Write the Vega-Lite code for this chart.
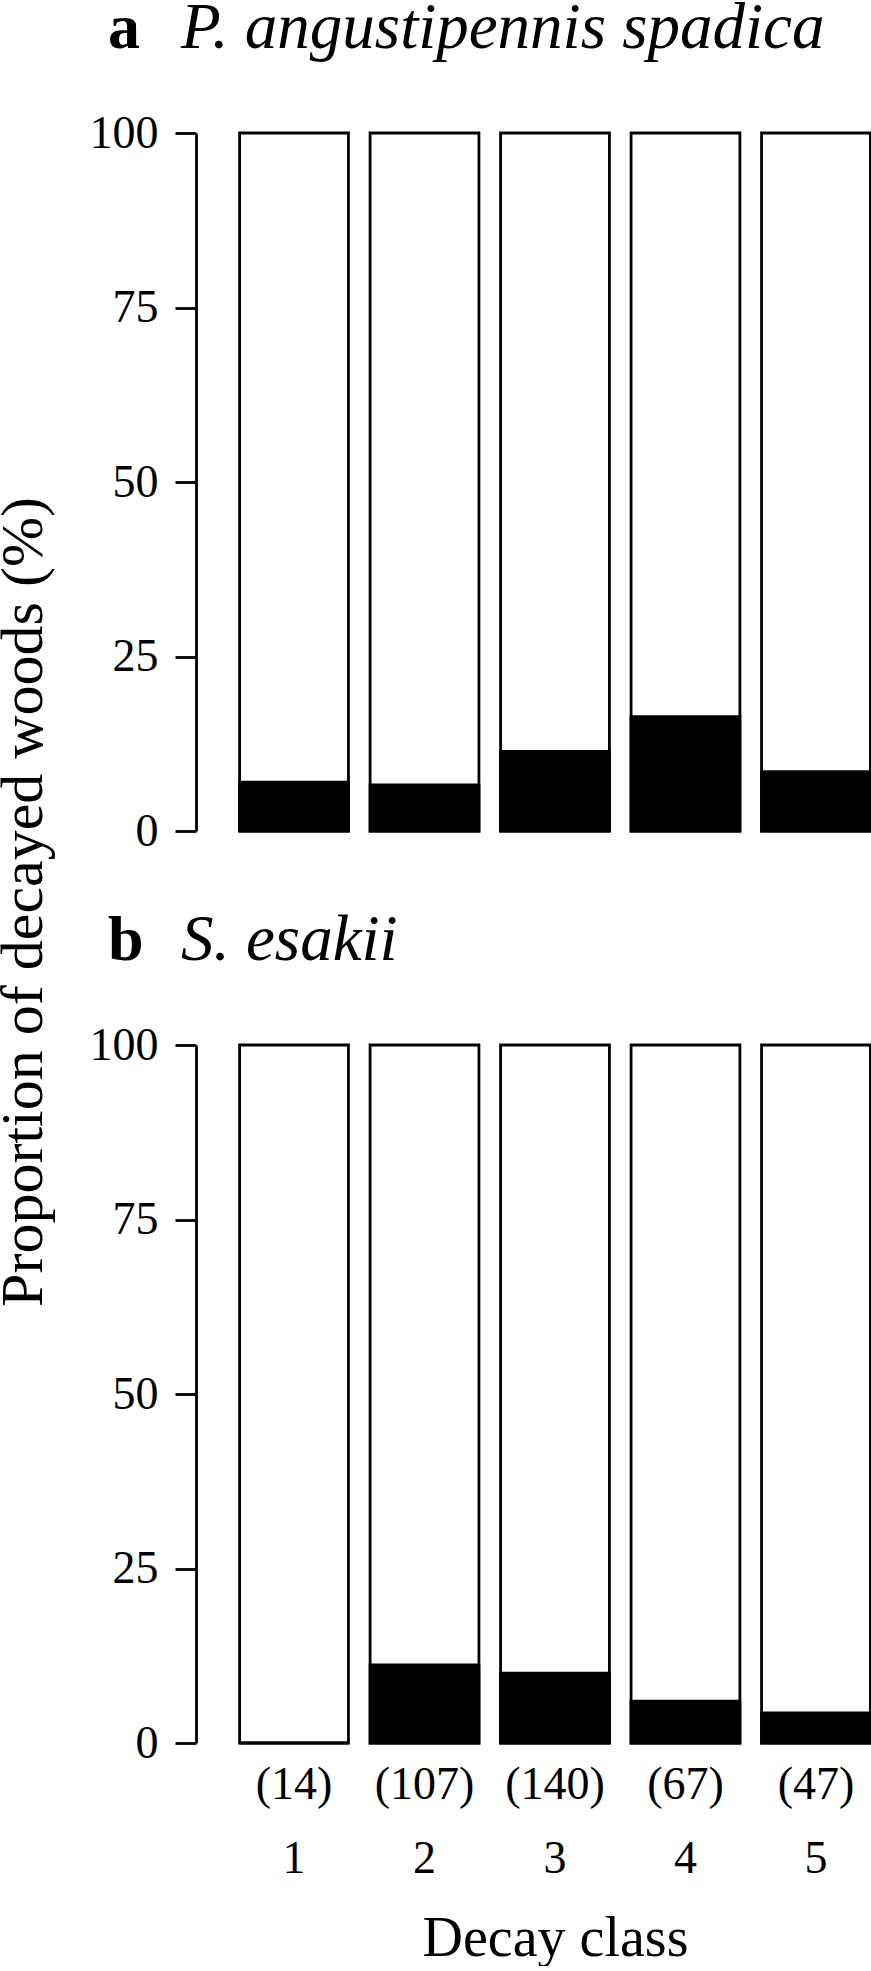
{
  "$schema": "https://vega.github.io/schema/vega-lite/v6.json",
  "padding": {"left": -7, "top": -4, "right": 0, "bottom": 0},
  "background": "white",
  "bounds": "flush",
  "data": {"values": [
    {"panel": "a", "species": "P. angustipennis spadica", "decay_class": "1", "n_label": "(14)", "decayed_pct": 7.0},
    {"panel": "a", "species": "P. angustipennis spadica", "decay_class": "2", "n_label": "(107)", "decayed_pct": 6.6},
    {"panel": "a", "species": "P. angustipennis spadica", "decay_class": "3", "n_label": "(140)", "decayed_pct": 11.4},
    {"panel": "a", "species": "P. angustipennis spadica", "decay_class": "4", "n_label": "(67)", "decayed_pct": 16.4},
    {"panel": "a", "species": "P. angustipennis spadica", "decay_class": "5", "n_label": "(47)", "decayed_pct": 8.5},
    {"panel": "b", "species": "S. esakii", "decay_class": "1", "n_label": "(14)", "decayed_pct": 0.0},
    {"panel": "b", "species": "S. esakii", "decay_class": "2", "n_label": "(107)", "decayed_pct": 11.2},
    {"panel": "b", "species": "S. esakii", "decay_class": "3", "n_label": "(140)", "decayed_pct": 10.0},
    {"panel": "b", "species": "S. esakii", "decay_class": "4", "n_label": "(67)", "decayed_pct": 6.0},
    {"panel": "b", "species": "S. esakii", "decay_class": "5", "n_label": "(47)", "decayed_pct": 4.3}
  ]},
  "facet": {
    "row": {
      "field": "panel",
      "type": "nominal",
      "header": {
        "labels": false,
        "title": "Proportion of decayed woods (%)",
        "titleFont": "Liberation Serif",
        "titleFontSize": 60,
        "titleFontWeight": "normal",
        "titleColor": "black",
        "titleOrient": "left",
        "titlePadding": 24
      }
    }
  },
  "spacing": {"row": 214},
  "spec": {
    "width": 636,
    "height": 698,
    "encoding": {
      "x": {
        "field": "decay_class",
        "type": "nominal",
        "scale": {"paddingInner": 0.166, "paddingOuter": 0.02},
        "axis": {
          "title": "Decay class",
          "domain": false,
          "ticks": false,
          "labelAngle": 0,
          "labelFontSize": 46,
          "labelPadding": 93,
          "titleFontSize": 56,
          "titlePadding": 30
        }
      }
    },
    "layer": [
      {
        "mark": {"type": "bar", "fill": "white", "stroke": "black", "strokeWidth": 2.8},
        "encoding": {
          "y": {
            "datum": 100,
            "type": "quantitative",
            "scale": {"domain": [0, 100], "nice": false},
            "axis": {
              "title": null,
              "values": [0, 25, 50, 75, 100],
              "offset": 41,
              "tickSize": 21,
              "tickWidth": 2.8,
              "domainWidth": 2.8,
              "labelFontSize": 46,
              "labelPadding": 17,
              "grid": false
            }
          },
          "y2": {"datum": 0}
        }
      },
      {
        "mark": {"type": "bar", "fill": "black", "stroke": "black", "strokeWidth": 2.8},
        "encoding": {
          "y": {"field": "decayed_pct", "type": "quantitative", "title": null}
        }
      },
      {
        "transform": [{"filter": "datum.decay_class == '1'"}],
        "mark": {"type": "text", "font": "Liberation Serif", "fontWeight": "bold", "fontSize": 64, "align": "left", "baseline": "alphabetic", "dx": -186, "dy": -85, "color": "black"},
        "encoding": {
          "y": {"datum": 100, "type": "quantitative"},
          "text": {"field": "panel"}
        }
      },
      {
        "transform": [{"filter": "datum.decay_class == '1'"}],
        "mark": {"type": "text", "font": "Liberation Serif", "fontStyle": "italic", "fontSize": 65, "align": "left", "baseline": "alphabetic", "dx": -113, "dy": -85, "color": "black"},
        "encoding": {
          "y": {"datum": 100, "type": "quantitative"},
          "text": {"field": "species"}
        }
      },
      {
        "transform": [{"filter": "datum.panel == 'b'"}],
        "mark": {"type": "text", "font": "Liberation Serif", "fontSize": 46, "align": "center", "baseline": "middle", "dy": 42, "color": "black"},
        "encoding": {
          "y": {"datum": 0, "type": "quantitative"},
          "text": {"field": "n_label"}
        }
      }
    ]
  },
  "config": {
    "view": {"stroke": null},
    "font": "Liberation Serif",
    "axis": {
      "labelFont": "Liberation Serif",
      "labelColor": "black",
      "titleFont": "Liberation Serif",
      "titleColor": "black",
      "titleFontWeight": "normal",
      "domainColor": "black",
      "tickColor": "black"
    }
  }
}
